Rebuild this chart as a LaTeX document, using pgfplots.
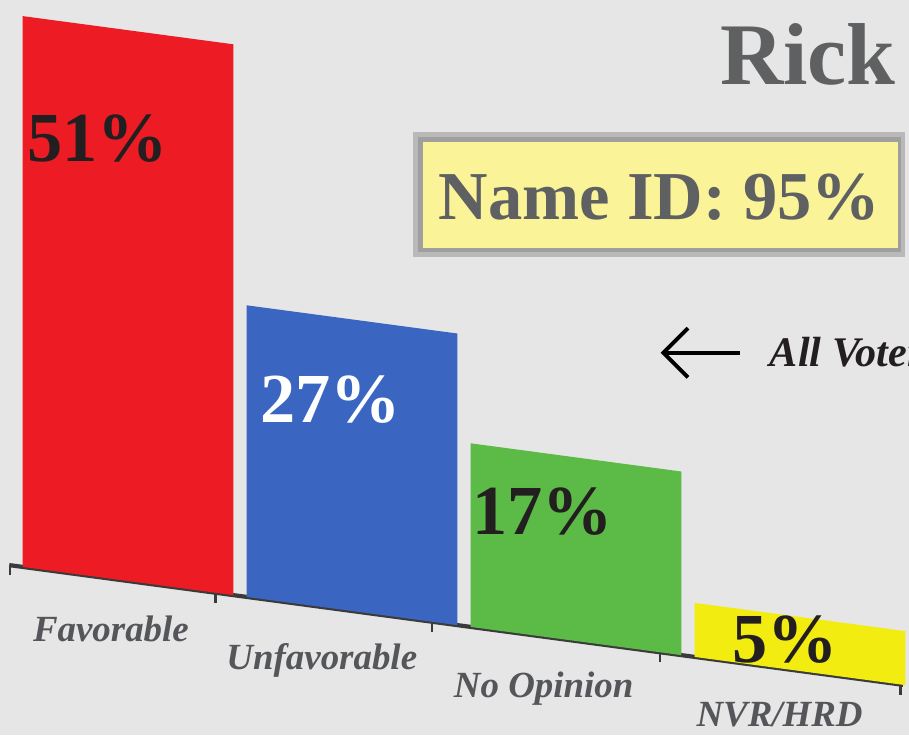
\documentclass[border=0pt]{standalone}
\usepackage{pgfplots}
\pgfplotsset{compat=1.18}
\usepackage{fontspec}
\setmainfont{Liberation Serif}
\usetikzlibrary{arrows.meta}
\definecolor{bg}{HTML}{E6E6E6}
\definecolor{barred}{HTML}{ED1C24}
\definecolor{barblue}{HTML}{3A66C2}
\definecolor{bargreen}{HTML}{5CBA47}
\definecolor{baryellow}{HTML}{F2EC10}
\definecolor{txtgray}{HTML}{5F6062}
\definecolor{lblgray}{HTML}{55565A}
\definecolor{dark}{HTML}{231F20}
\definecolor{axisgray}{HTML}{3A3A3A}
\definecolor{boxfill}{HTML}{FAF398}
\begin{document}
\begin{tikzpicture}
\useasboundingbox (0,0) rectangle (9.09,-7.35);
\clip (0,0) rectangle (9.09,-7.35);
\fill[bg] (0,0) rectangle (9.09,-7.35);
\begin{axis}[
  at={(1.28cm,-5.81cm)}, anchor=origin,
  x={(2.24cm,-0.30cm)}, y={(0cm,0.108cm)},
  xmin=-0.53, xmax=3.46, ymin=0, ymax=52,
  axis x line*=bottom, axis y line=none,
  x axis line style={draw=axisgray, line width=1.2pt},
  xtick={-0.527,0.39,1.357,2.375,3.45},
  xticklabels={\mbox{},\mbox{},\mbox{},\mbox{},\mbox{}},
  tick align=outside, major tick length=0.1cm,
  xtick style={draw=axisgray, line width=0.8pt},
  clip=false,
]
% bars: category position +/- half bar width (0.47), from 0 to the value
\addplot[fill=barred, draw=none] coordinates {(-0.47,0) (-0.47,51) (0.47,51) (0.47,0)} -- cycle;
\addplot[fill=barblue, draw=none] coordinates {(0.53,0) (0.53,27) (1.47,27) (1.47,0)} -- cycle;
\addplot[fill=bargreen, draw=none] coordinates {(1.53,0) (1.53,17) (2.47,17) (2.47,0)} -- cycle;
\addplot[fill=baryellow, draw=none] coordinates {(2.53,0) (2.53,5) (3.47,5) (3.47,0)} -- cycle;
\end{axis}
\begin{scope}[x=0.01cm, y=-0.01cm]
  % value labels
  \node[font=\fontsize{20}{24}\selectfont\bfseries, text=dark] at (98,139) {51\%};
  \node[font=\fontsize{20}{24}\selectfont\bfseries, text=white] at (331,400) {27\%};
  \node[font=\fontsize{20}{24}\selectfont\bfseries, text=dark] at (543,512) {17\%};
  \node[font=\fontsize{20}{24}\selectfont\bfseries, text=dark] at (786,640) {5\%};
  % category labels
  \node[font=\fontsize{10.5}{12}\selectfont\bfseries\itshape, text=lblgray, anchor=base] at (111,642) {Favorable};
  \node[font=\fontsize{10.5}{12}\selectfont\bfseries\itshape, text=lblgray, anchor=base] at (322,670) {Unfavorable};
  \node[font=\fontsize{10.5}{12}\selectfont\bfseries\itshape, text=lblgray, anchor=base] at (544,698) {No Opinion};
  \node[font=\fontsize{10.5}{12}\selectfont\bfseries\itshape, text=lblgray, anchor=base] at (780,727) {NVR/HRD};
  % title
  \node[font=\fontsize{25}{30}\selectfont\bfseries, text=txtgray, anchor=base west] at (708,85) {Rick};
  % Name ID box
  \fill[gray!55] (413,132) rectangle (906,257);
  \fill[gray!75!black!60] (418,137) rectangle (902,252);
  \fill[boxfill] (423,142) rectangle (899,248);
  \node[font=\fontsize{19.5}{24}\selectfont\bfseries, text=txtgray] at (660,197) {Name ID: 95\%};
  % arrow
  \draw[line width=1.1pt, -{Straight Barb[length=7pt, width=14pt]}] (740,353) -- (661,353);
  \node[font=\fontsize{12}{14}\selectfont\bfseries\itshape, text=dark, anchor=base west] at (758,367) {All Voters};
\end{scope}
\end{tikzpicture}
\end{document}
